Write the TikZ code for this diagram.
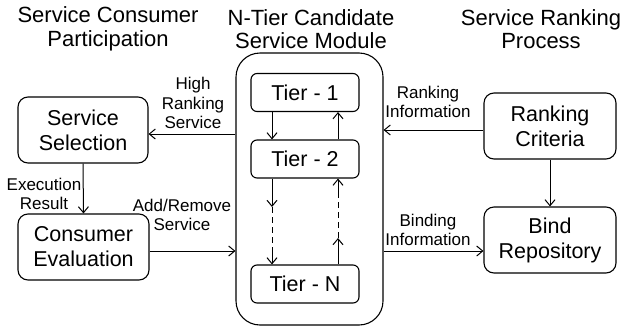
\documentclass[tikz,border=0pt]{standalone}
\usepackage{fontspec}
\setmainfont{Liberation Sans}
\usetikzlibrary{arrows.meta}
\begin{document}
\begin{tikzpicture}[x=1pt,y=-1pt,
  box/.style={draw,line width=1.1pt,rounded corners=10pt,align=center,
    font=\fontsize{21.5}{25}\selectfont,inner sep=0pt},
  tierbox/.style={draw,line width=1.1pt,rounded corners=6pt,
    minimum width=108pt,minimum height=38pt,inner sep=0pt,
    font=\fontsize{21.5}{25}\selectfont},
  lbl/.style={align=center,font=\fontsize{17}{19.5}\selectfont,inner sep=0pt},
  ttl/.style={align=center,font=\fontsize{22}{23.5}\selectfont,inner sep=0pt},
  arr/.style={line width=1pt,-{Straight Barb[length=6pt,width=10pt]}},
  ln/.style={line width=1pt}]
\useasboundingbox (0,0) rectangle (623,327);

% column titles
\node[ttl] (t1) at (108,29) {Service Consumer\\Participation};
\node[ttl] (t2) at (311,29) {N-Tier Candidate\\Service Module};
\node[ttl] (t3) at (541,29) {Service Ranking\\Process};

% candidate service module with its tiers
\node[draw,line width=1.1pt,rounded corners=24pt,minimum width=147pt,
  minimum height=272pt,inner sep=0pt] (cont) at (309.5,189) {};
\node[tierbox] (tA) at (305,92.5) {Tier - 1};
\node[tierbox] (tB) at (305,159) {Tier - 2};
\node[tierbox] (tN) at (305,284) {Tier - N};

% consumer side
\node[box,minimum width=130pt,minimum height=66pt] (sel) at (83,130) {Service\\Selection};
\node[box,minimum width=131pt,minimum height=66pt] (eva) at (83.5,247) {Consumer\\Evaluation};

% ranking side
\node[box,minimum width=132pt,minimum height=66pt] (crit) at (550,126) {Ranking\\Criteria};
\node[box,minimum width=132pt,minimum height=66pt] (repo) at (550,240) {Bind\\Repository};

% connectors between the columns
\draw[arr] (cont.west |- 0,134) -- (sel.east |- 0,134);
\draw[arr] (eva.east |- 0,251) -- (cont.west |- 0,251);
\draw[arr] (crit.west |- 0,130) -- (cont.east |- 0,130);
\draw[arr] (cont.east |- 0,251) -- (repo.west |- 0,251);
\draw[arr] (sel.south) -- (eva.north);
\draw[arr] (crit.south) -- (repo.north);

% links between tiers
\draw[arr] (tA.south -| 272,0) -- (tB.north -| 272,0);
\draw[arr] (tB.north -| 338,0) -- (tA.south -| 338,0);

\coordinate (dA) at (272,207);
\coordinate (dB) at (272,252);
\coordinate (uA) at (338,238);
\coordinate (uB) at (338,197);
\draw[arr] (tB.south -| dA) -- (dA);
\draw[ln,dashed,dash pattern=on 6pt off 4pt] (dA) -- (dB);
\draw[arr] (dB) -- (tN.north -| dB);
\draw[arr] (tN.north -| uA) -- (uA);
\draw[ln,dashed,dash pattern=on 6pt off 4pt] (uA) -- (uB);
\draw[arr] (uB) -- (tB.south -| uB);

% connector labels
\node[lbl] (lHigh) at (193,103) {High\\Ranking\\Service};
\node[lbl] (lExec) at (44,194) {Execution\\Result};
\node[lbl] (lAdd) at (182,215) {Add/Remove\\Service};
\node[lbl] (lRank) at (428,102) {Ranking\\Information};
\node[lbl] (lBind) at (428,230) {Binding\\Information};
\end{tikzpicture}
\end{document}
